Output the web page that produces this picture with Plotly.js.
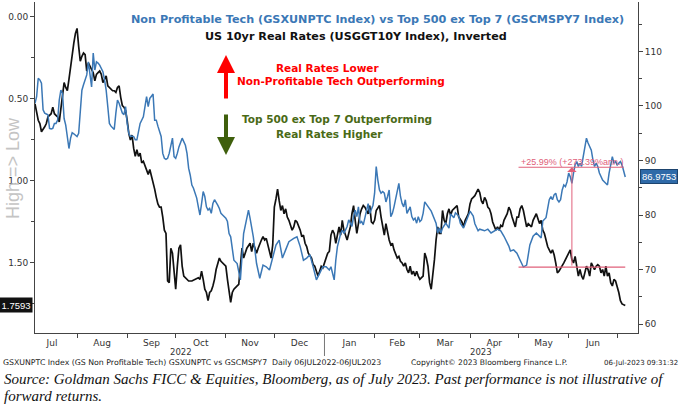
<!DOCTYPE html>
<html>
<head>
<meta charset="utf-8">
<script src="https://cdn.plot.ly/plotly-3.0.1.min.js"></script>
<style>
  html, body { margin: 0; padding: 0; background: #ffffff; }
  #chart { width: 680px; height: 404px; }
</style>
</head>
<body>
<div id="chart"></div>
<script>
// Calendar days after 2022-07-01 for each observation
const rrDay = [
  5,7,8,9,11,12,13,14,15,16,
  17,18,19,20,21,22,23,24,25,26,
  27,28,29,30,31,32,33,34,35,36,
  37,38,39,40,41,42,43,44,45,46,
  47,48,49,50,51,53,54,55,56,57,
  58,59,60,61,62,63,64,65,66,67,
  68,69,70,71,72,73,74,75,76,77,
  78,79,80,81,82,83,84,85,86,87,
  88,89,90,91,92,93,94,95,96,97,
  98,100,102,104,106,107,108,109,110,111,
  112,113,114,115,116,117,118,119,120,122,
  123,124,125,126,127,128,130,131,133,134,
  136,138,139,140,141,142,143,144,145,146,
  147,148,149,150,151,152,153,154,155,156,
  157,158,159,160,161,162,164,165,166,167,
  168,169,170,171,172,173,174,176,177,178,
  179,180,181,182,183,184,185,186,187,188,
  189,190,191,192,193,194,195,196,198,199,
  200,201,202,203,204,205,206,207,208,209,
  210,211,212,213,214,215,216,217,218,219,
  220,221,222,223,224,225,226,227,229,230,
  231,232,233,234,235,236,237,238,239,240,
  241,242,243,244,245,246,247,248,249,250,
  251,252,253,254,255,256,257,258,259,260,
  261,262,263,264,265,266,267,269,270,271,
  272,273,274,275,276,277,278,279,280,281,
  282,283,284,285,286,287,288,289,290,291,
  292,293,294,295,297,298,299,300,301,302,
  303,304,305,306,307,308,309,310,311,312,
  313,314,315,316,317,318,319,320,321,322,
  323,324,325,326,327,328,329,331,332,333,
  334,335,336,337,338,339,340,341,342,343,
  344,345,346,347,348,349,350,351,352,353,
  354,355,356,357,358,359,360,361,362,363,
  364,365,366,367,368,370
];
// US 10yr real rate (USGGT10Y), %
const rrVal = [
  0.53,0.63,0.65,0.70,0.67,0.65,0.61,0.60,0.59,0.55,
  0.59,0.60,0.61,0.64,0.55,0.49,0.40,0.43,0.45,0.38,
  0.30,0.22,0.16,0.10,0.07,0.18,0.27,0.24,0.22,0.23,
  0.33,0.28,0.30,0.32,0.34,0.39,0.35,0.34,0.33,0.35,
  0.40,0.38,0.36,0.42,0.43,0.45,0.45,0.46,0.43,0.42,
  0.49,0.54,0.55,0.57,0.63,0.71,0.75,0.72,0.80,0.85,
  0.81,0.85,0.83,0.89,0.88,0.91,0.94,0.96,0.93,0.97,
  1.00,1.05,1.10,1.14,1.16,1.16,1.22,1.30,1.32,1.61,
  1.62,1.41,1.44,1.56,1.66,1.52,1.41,1.39,1.52,1.58,
  1.59,1.61,1.61,1.60,1.59,1.60,1.55,1.60,1.66,1.68,
  1.73,1.68,1.67,1.64,1.60,1.54,1.50,1.47,1.49,1.51,
  1.52,1.60,1.68,1.74,1.68,1.66,1.64,1.63,1.41,1.47,
  1.41,1.38,1.43,1.38,1.41,1.44,1.41,1.38,1.36,1.34,
  1.36,1.35,1.39,1.42,1.47,1.39,1.16,1.11,1.05,1.12,
  1.18,1.15,1.20,1.17,1.22,1.24,1.30,1.28,1.24,1.25,
  1.27,1.30,1.34,1.33,1.38,1.40,1.44,1.47,1.51,1.52,
  1.55,1.58,1.55,1.52,1.53,1.50,1.48,1.44,1.43,1.33,
  1.30,1.32,1.38,1.32,1.28,1.33,1.24,1.30,1.36,1.32,
  1.28,1.20,1.15,1.24,1.32,1.26,1.20,1.17,1.15,1.16,
  1.18,1.20,1.15,1.25,1.26,1.24,1.18,1.16,1.15,1.22,
  1.28,1.33,1.26,1.32,1.36,1.39,1.38,1.42,1.47,1.46,
  1.49,1.50,1.52,1.50,1.54,1.56,1.52,1.57,1.55,1.58,
  1.55,1.58,1.60,1.59,1.58,1.44,1.47,1.52,1.62,1.66,
  1.58,1.48,1.36,1.28,1.32,1.32,1.18,1.24,1.26,1.20,
  1.17,1.21,1.18,1.17,1.16,1.15,1.22,1.25,1.28,1.24,
  1.22,1.20,1.14,1.11,1.10,1.09,1.07,1.05,1.07,1.12,
  1.14,1.10,1.12,1.16,1.17,1.20,1.25,1.28,1.30,1.28,
  1.30,1.27,1.28,1.24,1.20,1.16,1.18,1.22,1.25,1.28,
  1.22,1.22,1.17,1.15,1.18,1.24,1.28,1.26,1.27,1.28,
  1.24,1.22,1.20,1.23,1.26,1.24,1.30,1.32,1.36,1.40,
  1.42,1.44,1.42,1.45,1.50,1.56,1.55,1.52,1.50,1.48,
  1.46,1.44,1.42,1.48,1.50,1.46,1.52,1.58,1.54,1.58,
  1.60,1.56,1.52,1.54,1.58,1.50,1.52,1.54,1.52,1.51,
  1.52,1.56,1.54,1.58,1.52,1.58,1.56,1.62,1.64,1.60,
  1.61,1.64,1.68,1.73,1.75,1.7593
];
// Calendar days after 2022-07-01 for the ratio series
const npDay = [
  5,6,7,8,9,10,11,13,14,15,
  16,17,18,19,20,21,22,23,24,25,
  26,27,28,29,30,31,32,33,34,35,
  36,37,38,39,40,41,42,43,44,45,
  46,47,48,49,50,51,52,53,54,55,
  56,57,58,59,60,61,62,63,64,65,
  66,67,68,69,70,72,73,74,75,76,
  77,78,79,80,81,82,83,84,85,86,
  87,88,89,90,91,92,93,94,96,97,
  98,99,100,101,102,103,104,105,106,107,
  108,109,110,111,112,113,114,115,116,117,
  118,119,120,121,122,123,124,125,126,127,
  128,130,132,134,136,137,138,140,142,144,
  146,148,150,152,154,156,158,160,162,165,
  167,169,171,173,175,177,179,181,183,185,
  187,188,189,190,191,192,193,194,195,196,
  198,199,200,201,202,203,204,205,206,207,
  208,209,210,211,212,213,214,215,216,217,
  218,219,220,221,222,223,224,225,226,227,
  229,230,231,232,233,234,235,236,237,238,
  239,240,241,242,243,244,245,246,248,250,
  253,254,255,256,257,259,261,262,264,265,
  267,268,270,272,274,276,277,279,280,283,
  285,287,289,291,293,295,298,299,301,303,
  305,307,309,311,313,315,318,319,321,323,
  324,325,326,327,328,329,330,331,332,333,
  334,335,336,337,338,339,340,341,342,343,
  344,345,346,347,348,349,350,351,352,353,
  354,355,356,357,358,359,360,361,362,363,
  364,365,366,367,368,369,370
];
// GSXUNPTC vs GSCMSPY7 ratio
const npVal = [
  100.5,101.7,105.1,104.8,104.2,99.3,98.7,98.4,95.9,95.8,
  95.9,96.8,96.8,97.4,101.1,102.9,102.3,97.7,96.5,93.8,
  92.2,94.1,95.1,94.9,94.7,94.4,95.0,99.3,102.9,103.9,
  104.8,105.7,108.1,105.7,103.5,109.7,106.6,108.1,107.9,107.5,
  106.9,106.3,104.8,102.9,99.9,96.8,96.3,95.9,95.7,98.7,
  101.1,100.5,99.6,98.7,98.4,99.9,96.8,95.0,94.4,94.5,
  94.4,93.8,93.8,95.6,96.8,98.0,99.9,101.7,99.9,101.4,
  101.8,102.2,97.4,97.4,96.3,95.3,94.4,91.3,90.4,90.2,
  90.4,91.3,92.5,94.1,90.7,90.4,91.3,92.5,94.1,93.5,
  92.8,91.3,88.6,87.3,85.5,84.9,84.0,83.1,81.5,80.0,
  82.1,84.3,83.4,81.5,80.9,81.2,80.3,82.1,82.8,82.4,
  81.8,81.2,80.3,80.0,79.7,79.4,78.8,76.6,76.0,74.2,
  71.7,71.1,68.1,76.6,79.1,80.9,79.4,76.0,71.1,68.4,
  70.8,70.5,69.9,72.3,74.5,75.4,72.1,73.6,75.1,75.7,
  76.0,74.2,71.7,72.1,72.7,70.5,68.1,69.3,70.5,70.5,
  69.9,70.5,69.5,68.1,71.7,74.2,75.4,76.6,77.2,76.6,
  77.9,79.1,78.5,77.9,79.7,80.9,79.7,81.5,78.5,78.8,
  78.2,79.7,80.9,82.1,80.3,80.9,81.8,84.0,88.9,86.4,
  84.6,84.0,84.3,84.0,82.4,83.4,84.6,79.7,80.3,81.5,
  84.0,85.8,83.4,82.1,81.5,82.8,80.3,80.9,81.5,79.7,
  79.1,79.4,78.5,79.7,78.8,79.1,80.3,82.4,81.5,80.7,
  78.5,76.7,77.6,76.7,77.6,78.5,77.6,80.2,79.5,80.4,
  79.8,78.5,77.6,79.3,80.7,79.8,78.4,77.1,77.4,77.1,
  77.4,76.7,77.1,77.4,77.1,76.1,74.3,73.4,73.6,73.0,
  71.7,70.45,70.8,74.5,76.1,76.7,75.8,78.9,79.5,82.8,
  83.4,82.8,83.7,84.0,82.8,82.4,82.8,84.6,85.5,85.2,
  86.1,87.7,87.0,85.8,87.7,89.2,89.8,88.9,89.5,88.9,
  90.7,92.5,94.1,93.2,92.5,91.9,90.1,88.9,89.5,88.9,
  87.7,87.0,86.4,86.1,85.8,85.5,87.7,89.5,90.7,89.5,
  89.8,89.2,89.5,89.8,89.2,88.3,86.9753
];

// Move measurement (Bloomberg annotation)
const measureStart = '2023-05-01';
const measureAt = '2023-06-03';
const measureEnd = '2023-07-06';
const measureLow = 70.45;
const measureHigh = 88.76;
const measureText = '+25.99% (+273.39%ann.)';

const monthTickLabels = '%b';
const yearLabels = ['2022', '2023'];
const yearLabelDates = ['2022-10-04', '2023-04-08'];
const lastRR = '1.7593';
const lastNP = '86.9753';

const BASE = Date.UTC(2022, 6, 1);
function toDate(d) { return new Date(BASE + d * 86400000).toISOString().slice(0, 10); }

const rrX = rrDay.map(toDate);
const npX = npDay.map(toDate);

const BLUE = '#3b78b6';
const PINK = '#e0607a';

const traces = [
  { x: npX, y: npVal, type: 'scatter', mode: 'lines', yaxis: 'y2',
    line: { color: BLUE, width: 1.5 }, hoverinfo: 'skip', showlegend: false },
  { x: rrX, y: rrVal, type: 'scatter', mode: 'lines', yaxis: 'y',
    line: { color: '#111111', width: 1.7 }, hoverinfo: 'skip', showlegend: false }
];

const PL = 35, PR = 638, PT = 2, PB = 333;
const px = v => (v - PL) / (PR - PL);
const py = v => (PB - v) / (PB - PT);

const ann = [];
function txt(text, xpx, ypx, opts) {
  ann.push(Object.assign({ text: text, xref: 'paper', yref: 'paper', x: px(xpx), y: py(ypx),
    showarrow: false, xanchor: 'center', yanchor: 'middle' }, opts || {}));
}
const titleFont = { family: 'DejaVu Sans', size: 11.2 };
const noteFont = { family: 'DejaVu Sans', size: 10.5 };
txt('<b>Non Profitable Tech (GSXUNPTC Index) vs Top 500 ex Top 7 (GSCMSPY7 Index)</b>', 377, 20,
  { font: Object.assign({}, titleFont, { color: BLUE }) });
txt('<b>US 10yr Real Rates (USGGT10Y Index), Inverted</b>', 356, 36,
  { font: Object.assign({}, titleFont, { color: '#111' }) });
txt('<b>Real Rates Lower</b>', 327, 68, { font: Object.assign({}, noteFont, { color: '#ff0000' }) });
txt('<b>Non-Profitable Tech Outperforming</b>', 341, 81, { font: Object.assign({}, noteFont, { color: '#ff0000' }) });
txt('<b>Top 500 ex Top 7 Outperforming</b>', 337, 119, { font: Object.assign({}, noteFont, { color: '#4a6a16' }) });
txt('<b>Real Rates Higher</b>', 329, 134, { font: Object.assign({}, noteFont, { color: '#4a6a16' }) });

txt('High => Low', 13, 168, { textangle: -90, font: { family: 'Liberation Sans', size: 18, color: '#c4c4c4' } });

// big arrows
ann.push({ xref: 'paper', yref: 'paper', x: px(226), y: py(55), ax: 0, ay: 45, text: '',
  showarrow: true, arrowhead: 2, arrowsize: 0.9, arrowwidth: 4, arrowcolor: '#ff0000' });
ann.push({ xref: 'paper', yref: 'paper', x: px(226), y: py(155), ax: 0, ay: -42, text: '',
  showarrow: true, arrowhead: 2, arrowsize: 0.9, arrowwidth: 4, arrowcolor: '#3f5f0c' });

// last-value tags
ann.push({ xref: 'paper', yref: 'y', x: 0, y: rrVal[rrVal.length - 1], xanchor: 'right', xshift: -2,
  text: lastRR, showarrow: false, bgcolor: '#111', borderpad: 1.5,
  font: { family: 'Liberation Sans', size: 9.5, color: '#fff' } });
ann.push({ xref: 'paper', yref: 'y2', x: 1, y: npVal[npVal.length - 1], xanchor: 'left', xshift: 2,
  text: lastNP, showarrow: false, bgcolor: '#2f6aa8', bordercolor: '#1d446e', borderwidth: 1, borderpad: 1,
  font: { family: 'Liberation Sans', size: 9.5, color: '#fff' } });

// year labels
yearLabels.forEach((t, i) => {
  ann.push({ xref: 'x', yref: 'paper', x: yearLabelDates[i], y: py(345.5), yanchor: 'top', text: t, showarrow: false,
    borderpad: 0, font: { family: 'DejaVu Sans', size: 8.5, color: '#333' } });
});

// measurement annotation
ann.push({ xref: 'x', yref: 'y2', x: measureStart, y: measureHigh, xanchor: 'left', yanchor: 'bottom',
  yshift: -2, text: measureText, showarrow: false,
  font: { family: 'Liberation Sans', size: 9, color: PINK } });
ann.push({ xref: 'x', yref: 'y2', x: measureAt, y: measureHigh, axref: 'x', ayref: 'y2',
  ax: measureAt, ay: measureLow, text: '', showarrow: true, arrowhead: 1, arrowsize: 1.6,
  arrowwidth: 1, arrowcolor: PINK });

// footers
const footFont = { family: 'DejaVu Sans', size: 7.8, color: '#222' };
txt('GSXUNPTC Index (GS Non Profitable Tech) GSXUNPTC vs GSCMSPY7  Daily 06JUL2022-06JUL2023', 2, 363,
  { xanchor: 'left', borderpad: 0, font: footFont });
txt('Copyright\u00a9 2023 Bloomberg Finance L.P.', 410, 363,
  { xanchor: 'left', borderpad: 0, font: Object.assign({}, footFont, { size: 7.6 }) });
txt('06-Jul-2023 09:31:32', 679, 363,
  { xanchor: 'right', borderpad: 0, font: Object.assign({}, footFont, { size: 7 }) });
txt('<i>Source: Goldman Sachs FICC & Equities, Bloomberg, as of July 2023. Past performance is not illustrative of</i>', 2, 379,
  { xanchor: 'left', font: { family: 'Liberation Serif', size: 15, color: '#111' } });
txt('<i>forward returns.</i>', 2, 396,
  { xanchor: 'left', font: { family: 'Liberation Serif', size: 15, color: '#111' } });

const shapes = [
  { type: 'line', xref: 'x', yref: 'y2', x0: measureStart, x1: measureEnd, y0: measureLow, y1: measureLow,
    line: { color: PINK, width: 1.2 } },
  { type: 'line', xref: 'x', yref: 'y2', x0: measureStart, x1: '2023-07-05', y0: measureHigh, y1: measureHigh,
    line: { color: PINK, width: 1.2 } },
  { type: 'line', xref: 'x', yref: 'paper', x0: '2023-01-01', x1: '2023-01-01', y0: 0, y1: py(356),
    line: { color: '#777', width: 1 } }
];

const tickFont = { family: 'DejaVu Sans', size: 9, color: '#333' };

const layout = {
  width: 680, height: 404,
  margin: { l: PL, r: 680 - PR, t: PT, b: 404 - PB, pad: 0 },
  paper_bgcolor: '#fff', plot_bgcolor: '#fff',
  showlegend: false,
  xaxis: {
    type: 'date', range: ['2022-07-06', '2023-07-13 21:00'],
    dtick: 'M1', tick0: '2022-07-01', ticklabelmode: 'period', tickformat: monthTickLabels,
    ticks: 'outside', ticklen: 4, tickcolor: '#444', ticklabelstandoff: -3,
    showline: true, linecolor: '#444', linewidth: 1, showgrid: false, zeroline: false,
    tickfont: tickFont
  },
  yaxis: {
    range: [1.927, -0.091], tickvals: [0, 0.5, 1.0, 1.5], tickformat: '.2f',
    ticks: 'outside', ticklen: 4, tickcolor: '#444',
    minor: { tickvals: [0.25, 0.75, 1.25, 1.75], ticks: 'outside', ticklen: 3, tickcolor: '#444' },
    showline: true, linecolor: '#444', linewidth: 1, showgrid: false, zeroline: false,
    tickfont: tickFont
  },
  yaxis2: {
    overlaying: 'y', side: 'right', range: [58.35, 119.08],
    tickvals: [60, 70, 80, 90, 100, 110],
    ticks: 'outside', ticklen: 4, tickcolor: '#444',
    minor: { tickvals: [65, 75, 85, 95, 105, 115], ticks: 'outside', ticklen: 3, tickcolor: '#444' },
    showline: true, linecolor: '#444', linewidth: 1, showgrid: false, zeroline: false,
    tickfont: tickFont
  },
  annotations: ann,
  shapes: shapes
};

Plotly.newPlot('chart', traces, layout, { staticPlot: true, displayModeBar: false });
</script>
</body>
</html>
